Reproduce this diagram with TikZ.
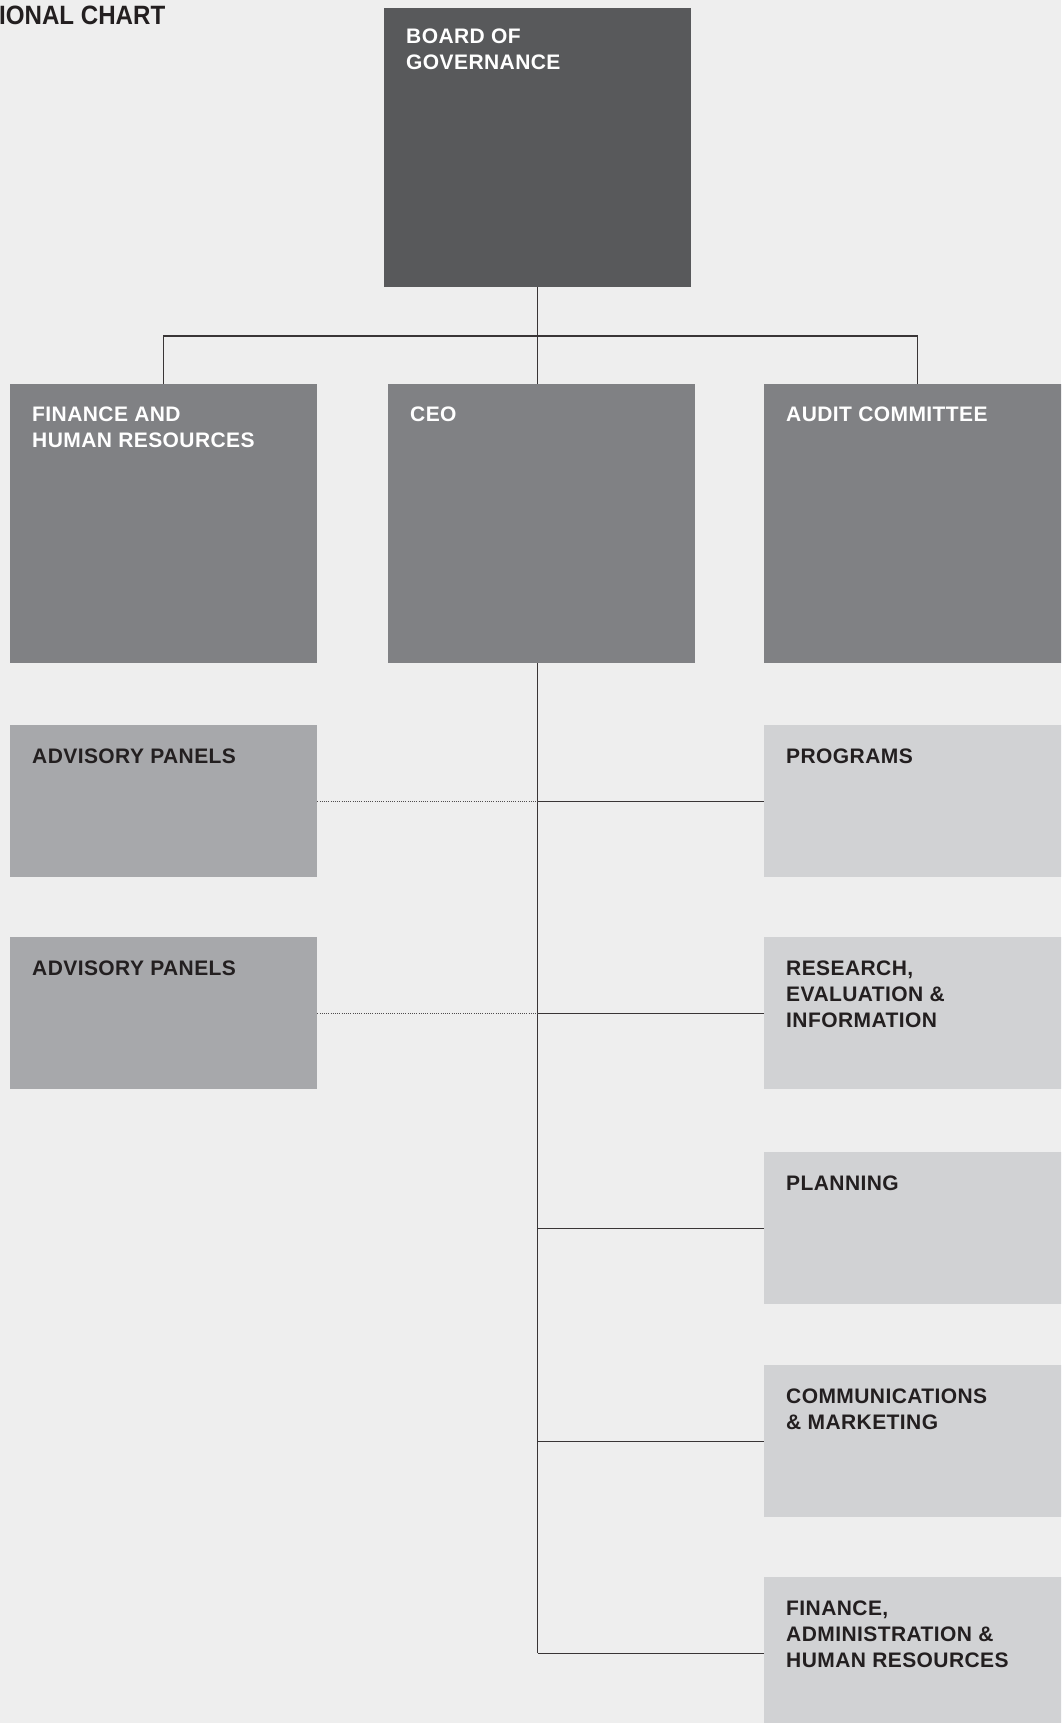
\documentclass[tikz,border=0pt]{standalone}
\usepackage{fontspec}
\usepackage{graphicx}
\setmainfont{Liberation Sans}
\newfontfamily\boxfont[LetterSpace=2]{Liberation Sans}
\usetikzlibrary{positioning}

\definecolor{pagebg}{HTML}{EEEEEE}
\definecolor{topgray}{HTML}{58595B}
\definecolor{midgray}{HTML}{808184}
\definecolor{advgray}{HTML}{A7A8AB}
\definecolor{unitgray}{HTML}{D1D2D4}
\definecolor{inkdark}{HTML}{231F20}

\tikzset{
  orgbox/.style={draw=none, inner sep=0pt, anchor=north west, minimum width=307pt},
  tallbox/.style={orgbox, minimum height=279pt},
  shortbox/.style={orgbox, minimum height=152pt},
  boardbox/.style={tallbox, fill=topgray},
  deptbox/.style={tallbox, fill=midgray},
  advbox/.style={shortbox, fill=advgray},
  unitbox/.style={shortbox, fill=unitgray},
  lbl/.style={inner sep=0pt, anchor=north west, align=left,
    font=\boxfont\bfseries\fontsize{21}{26}\selectfont},
  lightlbl/.style={lbl, text=white},
  darklbl/.style={lbl, text=inkdark},
  conn/.style={draw=inkdark!90, line width=1.4pt},
  dotconn/.style={draw=inkdark!80, line width=1.2pt, dash pattern=on 1pt off 1.2pt}
}

\begin{document}
\begin{tikzpicture}[x=1pt, y=-1pt]
  % page frame
  \useasboundingbox (0,0) rectangle (1061,1723);
  \clip (0,0) rectangle (1061,1723);
  \fill[pagebg] (0,0) rectangle (1061,1723);

  % heading
  \node[inner sep=0pt, anchor=base west, text=inkdark,
        font=\bfseries\fontsize{26.5}{30}\selectfont] (title) at (-1,25)
        {\scalebox{0.91}[1]{IONAL CHART}};

  % boxes
  \node[boardbox] (board) at (384,8) {};
  \node[deptbox]  (fhr)   at (10,384) {};
  \node[deptbox]  (ceo)   at (388,384) {};
  \node[deptbox]  (audit) at (764,384) {};

  \node[advbox]  (adv1) at (10,725) {};
  \node[advbox]  (adv2) at (10,937) {};

  \node[unitbox] (prog)  at (764,725) {};
  \node[unitbox] (rei)   at (764,937) {};
  \node[unitbox] (plan)  at (764,1152) {};
  \node[unitbox] (comm)  at (764,1365) {};
  \node[unitbox] (fahr)  at (764,1577) {};

  % labels
  \node[lightlbl] (boardtxt) at ([shift={(22,21)}]board.north west) {BOARD OF\\GOVERNANCE};
  \node[lightlbl] (fhrtxt)   at ([shift={(22,23)}]fhr.north west)   {FINANCE AND\\HUMAN RESOURCES};
  \node[lightlbl] (ceotxt)   at ([shift={(22,23)}]ceo.north west)   {CEO};
  \node[lightlbl] (audittxt) at ([shift={(22,23)}]audit.north west) {AUDIT COMMITTEE};

  \node[darklbl] (adv1txt) at ([shift={(22,24)}]adv1.north west) {ADVISORY PANELS};
  \node[darklbl] (adv2txt) at ([shift={(22,24)}]adv2.north west) {ADVISORY PANELS};
  \node[darklbl] (progtxt) at ([shift={(22,24)}]prog.north west) {PROGRAMS};
  \node[darklbl] (reitxt)  at ([shift={(22,24)}]rei.north west)  {RESEARCH,\\EVALUATION \&\\INFORMATION};
  \node[darklbl] (plantxt) at ([shift={(22,24)}]plan.north west) {PLANNING};
  \node[darklbl] (commtxt) at ([shift={(22,24)}]comm.north west) {COMMUNICATIONS\\\& MARKETING};
  \node[darklbl] (fahrtxt) at ([shift={(22,24)}]fahr.north west) {FINANCE,\\ADMINISTRATION \&\\HUMAN RESOURCES};

  % connectors from the board
  \coordinate (bus) at (538,336);
  \draw[conn] (board.south) -- (board.south |- bus);
  \draw[conn] (board.south |- bus) -| (fhr.north);
  \draw[conn] (board.south |- bus) -| (audit.north);
  \draw[conn] (board.south |- bus) -- (board.south |- ceo.north);

  % CEO spine and branches
  \coordinate (spinetop) at (board.south |- ceo.south);
  \draw[conn] (spinetop) -- (spinetop |- fahr.west);
  \foreach \u in {prog, rei, plan, comm, fahr}
    \draw[conn] (spinetop |- \u.west) -- (\u.west);

  % advisory links
  \draw[dotconn] (adv1.east) -- (spinetop |- adv1.east);
  \draw[dotconn] (adv2.east) -- (spinetop |- adv2.east);
\end{tikzpicture}
\end{document}
